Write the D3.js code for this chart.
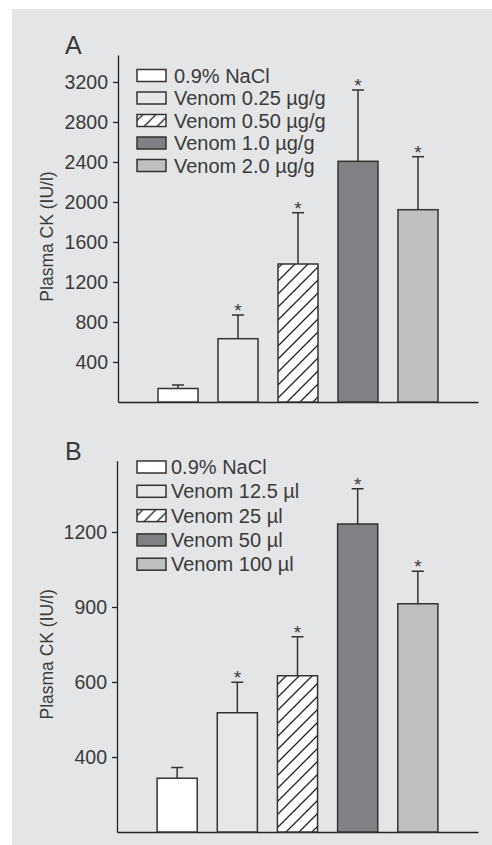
<!DOCTYPE html>
<html>
<head>
<meta charset="utf-8">
<script src="https://cdn.jsdelivr.net/npm/d3@7"></script>
<style>
  body { margin: 0; background: #fff; }
  svg text { font-family: "Liberation Sans", Arial, sans-serif; fill: #3a3a3a; }
</style>
</head>
<body>
<svg id="chart" width="492" height="845"></svg>
<script>
// panel A: dose in µg/g
const groupsA = ["0.9% NaCl", "Venom 0.25 µg/g", "Venom 0.50 µg/g", "Venom 1.0 µg/g", "Venom 2.0 µg/g"];
const meansA = [135, 633, 1380, 2407, 1923];
const errorsA = [35, 237, 513, 713, 530];
const starsA = [false, true, true, true, true];
const ticksA = [400, 800, 1200, 1600, 2000, 2400, 2800, 3200];

// panel B: volume in µl (tick labels as printed in the figure)
const groupsB = ["0.9% NaCl", "Venom 12.5 µl", "Venom 25 µl", "Venom 50 µl", "Venom 100 µl"];
const meansB = [215, 477, 625, 1232, 913];
const errorsB = [43, 122, 156, 141, 130];
const starsB = [false, true, true, true, true];
const ticksB = [300, 600, 900, 1200];
const tickLabelsB = ["400", "600", "900", "1200"];

const fills = ["#ffffff", "#e6e7e9", "url(#hatch)", "#808184", "#bebfc1"];

const svg = d3.select("#chart");

svg.append("rect")
    .attr("x", 12).attr("y", 9)
    .attr("width", 480).attr("height", 836)
    .attr("fill", "#e4e5e7");

const defs = svg.append("defs");
const pat = defs.append("pattern")
    .attr("id", "hatch")
    .attr("patternUnits", "userSpaceOnUse")
    .attr("width", 13).attr("height", 13);
pat.append("rect").attr("width", 13).attr("height", 13).attr("fill", "#fff");
pat.append("path")
    .attr("d", "M0,13 L13,0 M-4,4 L4,-4 M9,17 L17,9")
    .attr("stroke", "#222")
    .attr("stroke-width", 1.3);

function drawPanel(cfg) {
    const g = svg.append("g");

    const x = d3.scaleBand()
        .domain(cfg.groups)
        .range([cfg.left, cfg.right])
        .paddingInner(1 / 3)
        .paddingOuter(2 / 3);

    const y = d3.scaleLinear()
        .domain([0, cfg.yMax])
        .range([cfg.bottom, cfg.top]);

    const yAxis = d3.axisLeft(y)
        .tickValues(cfg.ticks)
        .tickFormat((d, i) => cfg.tickLabels ? cfg.tickLabels[i] : d)
        .tickSize(5)
        .tickSizeOuter(0)
        .tickPadding(5);

    const ya = g.append("g")
        .attr("transform", `translate(${cfg.left},0)`)
        .call(yAxis);
    ya.selectAll("path, line").attr("stroke", "#222").attr("stroke-width", 1.3);
    ya.selectAll("text")
        .style("font-family", '"Liberation Sans", Arial, sans-serif')
        .style("font-size", "19.5px")
        .attr("fill", "#3a3a3a");

    const xa = g.append("g")
        .attr("transform", `translate(0,${cfg.bottom})`)
        .call(d3.axisBottom(x).tickValues([]).tickSizeOuter(0));
    xa.select("path").attr("stroke", "#222").attr("stroke-width", 1.3);

    const data = cfg.groups.map((k, i) => ({
        key: k, mean: cfg.means[i], err: cfg.errors[i], star: cfg.stars[i], fill: fills[i]
    }));

    // error bars (upper only)
    const eb = g.append("g").selectAll("g").data(data).enter().append("g");
    eb.append("line")
        .attr("x1", d => x(d.key) + x.bandwidth() / 2)
        .attr("x2", d => x(d.key) + x.bandwidth() / 2)
        .attr("y1", d => y(d.mean))
        .attr("y2", d => y(d.mean + d.err))
        .attr("stroke", "#333").attr("stroke-width", 1.5);
    eb.append("line")
        .attr("x1", d => x(d.key) + x.bandwidth() / 2 - 6)
        .attr("x2", d => x(d.key) + x.bandwidth() / 2 + 6)
        .attr("y1", d => y(d.mean + d.err))
        .attr("y2", d => y(d.mean + d.err))
        .attr("stroke", "#333").attr("stroke-width", 1.5);
    eb.filter(d => d.star).append("text")
        .attr("x", d => x(d.key) + x.bandwidth() / 2)
        .attr("y", d => y(d.mean + d.err) + 2)
        .attr("text-anchor", "middle")
        .style("font-size", "19px")
        .text("*");

    g.append("g").selectAll("rect").data(data).enter().append("rect")
        .attr("x", d => x(d.key))
        .attr("y", d => y(d.mean))
        .attr("width", x.bandwidth())
        .attr("height", d => cfg.bottom - y(d.mean))
        .attr("fill", d => d.fill)
        .attr("stroke", "#333")
        .attr("stroke-width", 1.5);

    // legend
    const lg = g.append("g").selectAll("g").data(data).enter().append("g")
        .attr("transform", (d, i) => `translate(${cfg.legX},${cfg.legY + i * cfg.legStep})`);
    lg.append("rect")
        .attr("x", 0).attr("y", -6)
        .attr("width", 29).attr("height", 12)
        .attr("fill", d => d.fill)
        .attr("stroke", "#333").attr("stroke-width", 1.5);
    lg.append("text")
        .attr("x", cfg.legText)
        .attr("y", 7)
        .style("font-size", "20px")
        .text(d => d.key);

    // panel letter
    g.append("text")
        .attr("x", 65).attr("y", cfg.top - 1)
        .style("font-size", "25px")
        .text(cfg.letter);

    // y label
    g.append("text")
        .attr("transform", `translate(53,${(cfg.top + cfg.bottom) / 2 + 8}) rotate(-90)`)
        .attr("text-anchor", "middle")
        .style("font-size", "17.5px")
        .attr("fill", "#4a4a4a")
        .text("Plasma CK (IU/l)");
}

drawPanel({
    letter: "A", groups: groupsA, means: meansA, errors: errorsA, stars: starsA,
    ticks: ticksA, yMax: 3470,
    left: 118, right: 478, top: 55, bottom: 402,
    legX: 137, legY: 75.5, legStep: 22.5, legText: 37
});

drawPanel({
    letter: "B", groups: groupsB, means: meansB, errors: errorsB, stars: starsB,
    ticks: ticksB, tickLabels: tickLabelsB, yMax: 1485,
    left: 117, right: 478, top: 460.75, bottom: 832,
    legX: 137, legY: 467, legStep: 24.3, legText: 34
});
</script>
</body>
</html>
